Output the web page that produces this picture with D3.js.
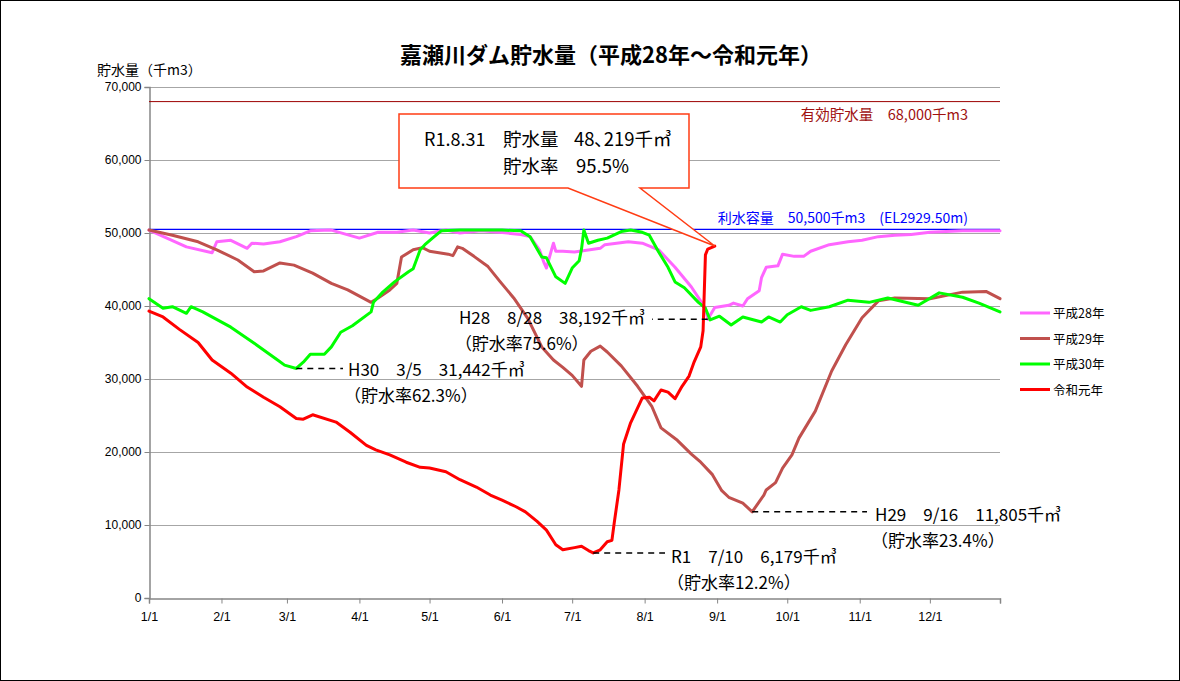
<!DOCTYPE html>
<html>
<head>
<meta charset="utf-8">
<script src="https://cdn.jsdelivr.net/npm/d3@7"></script>
<style>
body { margin: 0; background: #fff; }
text { font-family: "Noto Sans CJK JP", "Noto Sans", sans-serif; }
</style>
</head>
<body>
<div id="chart"></div>
<script>
// 平成28年
var h28Dates = ["1/1","1/17","1/28","1/30","2/5","2/12","2/14","2/19","2/26","3/5","3/11","3/20","4/1","4/9","4/17","4/24","5/1","5/8","5/14","5/23","5/31","6/9","6/13","6/17","6/19","6/20","6/22","6/23","6/24","6/27","7/2","7/13","7/15","7/25","7/31","8/7","8/14","8/21","8/27","8/28","8/31","9/6","9/8","9/12","9/14","9/19","9/20","9/22","9/27","9/29","10/4","10/8","10/11","10/19","10/27","11/2","11/9","11/16","11/23","12/1","12/15","12/31"];
var h28Values = [50400,48100,47300,48800,49000,47900,48600,48500,48800,49500,50300,50400,49300,50100,50100,50400,50000,50400,50000,50300,50100,49800,49500,47700,45900,45200,47500,48600,47500,47500,47400,47900,48400,48800,48600,47700,45300,42600,39700,38192,39800,40100,40400,40000,41000,42100,43900,45300,45500,47100,46800,46800,47500,48400,48800,49000,49500,49700,49800,50100,50300,50300];

// 平成29年
var h29Dates = ["1/1","1/11","1/22","1/30","2/8","2/15","2/19","2/26","3/4","3/12","3/20","3/27","4/6","4/9","4/14","4/17","4/19","4/24","4/28","5/1","5/9","5/11","5/13","5/15","5/20","5/26","5/31","6/6","6/12","6/18","6/23","6/27","7/1","7/5","7/6","7/9","7/13","7/16","7/22","7/29","8/4","8/8","8/15","8/21","8/25","8/30","9/3","9/6","9/12","9/16","9/21","9/22","9/26","9/29","10/3","10/6","10/13","10/20","10/26","11/2","11/9","11/16","12/1","12/15","12/25","12/31"];
var h29Values = [50400,49700,48800,47700,46300,44700,44800,45900,45600,44500,43100,42200,40500,41100,42200,43100,46700,47700,48000,47500,47100,46900,48100,47900,46800,45400,43400,41100,38300,34400,32600,31600,30500,29000,32600,33800,34500,33700,31800,29000,26300,23300,21600,19700,18600,16900,14700,13800,13000,11805,14100,14800,15800,17800,19600,21900,25600,31100,34700,38400,40700,41100,41000,41900,42000,41000];

// 平成30年
var h30Dates = ["1/1","1/7","1/11","1/17","1/19","1/24","2/5","2/15","2/25","2/28","3/5","3/8","3/11","3/17","3/20","3/24","3/29","4/6","4/7","4/11","4/16","4/22","4/24","4/27","4/29","5/3","5/6","5/14","6/1","6/9","6/13","6/18","6/20","6/24","6/28","7/1","7/4","7/5","7/6","7/8","7/12","7/16","7/22","7/26","7/31","8/3","8/7","8/11","8/14","8/18","8/24","8/27","8/29","9/2","9/7","9/12","9/20","9/23","9/28","10/1","10/7","10/11","10/19","10/27","11/5","11/13","11/26","12/5","12/15","12/22","12/31"];
var h30Values = [41000,39700,39900,39000,39900,39200,37100,34900,32600,31900,31442,32300,33400,33400,34400,36400,37300,39200,40500,41900,43300,44700,45100,47700,48400,49500,50300,50400,50400,50300,49500,46700,46600,44000,43100,45200,46200,47800,50400,48600,49000,49300,50200,50400,50100,49700,47400,45300,43300,42500,40500,39700,38100,38600,37400,38500,37800,38500,37800,38800,39900,39400,39900,40800,40500,41100,40100,41800,41200,40400,39200];

// 令和元年
var r1Dates = ["1/1","1/7","1/14","1/22","1/28","2/5","2/12","2/19","2/26","3/5","3/8","3/12","3/22","3/28","4/4","4/8","4/14","4/21","4/27","5/1","5/8","5/14","5/21","5/27","6/1","6/7","6/11","6/16","6/20","6/24","6/27","7/2","7/5","7/8","7/10","7/13","7/16","7/18","7/19","7/21","7/23","7/26","7/31","8/3","8/5","8/8","8/11","8/14","8/17","8/20","8/22","8/25","8/26","8/27","8/28","8/31"];
var r1Values = [39300,38500,36800,35000,32600,30800,28900,27500,26200,24600,24500,25100,24100,22700,20900,20300,19600,18600,17900,17800,17300,16200,15200,14100,13400,12500,11800,10500,9300,7300,6600,6900,7100,6500,6179,6600,7700,7900,10300,14800,21100,24000,27400,27500,27000,28500,28200,27300,29000,30400,32200,34400,36600,47000,47800,48219];

var seriesNames = ["平成28年", "平成29年", "平成30年", "令和元年"];
var seriesColors = ["#ff66ff", "#c0504d", "#00ff00", "#ff0000"];

var monthTicks = ["1/1","2/1","3/1","4/1","5/1","6/1","7/1","8/1","9/1","10/1","11/1","12/1"];
var yTicks = [0, 10000, 20000, 30000, 40000, 50000, 60000, 70000];

var effectiveCapacity = 68000;   // 有効貯水量
var waterUseCapacity = 50500;    // 利水容量

// minimum points: series label, date, volume, rate
var noteLabels = ["H30", "H28", "H29", "R1"];
var noteDates = ["3/5", "8/28", "9/16", "7/10"];
var noteValues = [31442, 38192, 11805, 6179];
var noteRates = ["62.3", "75.6", "23.4", "12.2"];

// callout
var calloutLabel = "R1.8.31";
var calloutDate = "8/31";
var calloutValue = 48219;
var calloutRate = "95.5";

var W = 1180, H = 681;
var parse = d3.timeParse("%Y/%m/%d");
function dt(s) { return parse("2019/" + s); }

var svg = d3.select("#chart").append("svg").attr("width", W).attr("height", H);

svg.append("rect").attr("x", 0.5).attr("y", 0.5).attr("width", W - 1).attr("height", H - 1)
    .attr("fill", "#fff").attr("stroke", "#000").attr("stroke-width", 1);

var x = d3.scaleTime().domain([dt("1/1"), dt("12/31")]).range([149, 1000]);
var y = d3.scaleLinear().domain([0, 70000]).range([598, 87]);

// grid
svg.append("g").selectAll("line").data(yTicks.slice(1)).enter().append("line")
    .attr("x1", 149).attr("x2", 1000)
    .attr("y1", function (d) { return y(d) + 0.5; }).attr("y2", function (d) { return y(d) + 0.5; })
    .attr("stroke", "#a6a6a6").attr("stroke-width", 1);

// axes
var yAxis = svg.append("g").attr("transform", "translate(149.5,0)")
    .call(d3.axisLeft(y).tickValues(yTicks).tickFormat(d3.format(",")).tickSize(5).tickPadding(3));
var xAxis = svg.append("g").attr("transform", "translate(0,598.5)")
    .call(d3.axisBottom(x).tickValues(monthTicks.map(dt).concat([dt("12/31")]))
        .tickFormat(function (d) { return +d === +dt("12/31") ? "" : d3.timeFormat("%-m/%-d")(d); })
        .tickSize(5).tickPadding(9));
[yAxis, xAxis].forEach(function (g) {
    g.selectAll("path, line").attr("stroke", "#868686");
    g.select(".domain").attr("stroke-width", 1.5);
    g.selectAll("text").attr("fill", "#000").style("font-family", "'Liberation Sans', sans-serif").style("font-size", "12px");
});
xAxis.selectAll("text").style("font-family", "'Liberation Sans Narrow', 'Liberation Sans', sans-serif").style("font-size", "12.5px");

// capacity lines
svg.append("line").attr("x1", 149).attr("x2", 1000)
    .attr("y1", y(effectiveCapacity)).attr("y2", y(effectiveCapacity))
    .attr("stroke", "#9c0000").attr("stroke-width", 1);
svg.append("text").attr("x", 968).attr("y", y(effectiveCapacity) + 18).attr("text-anchor", "end")
    .attr("fill", "#a01010").style("font-size", "14.5px")
    .text("有効貯水量　" + d3.format(",")(effectiveCapacity) + "千m3");
svg.append("line").attr("x1", 149).attr("x2", 1000)
    .attr("y1", y(waterUseCapacity)).attr("y2", y(waterUseCapacity))
    .attr("stroke", "#0000ff").attr("stroke-width", 1.2);
svg.append("text").attr("x", 968).attr("y", y(waterUseCapacity) - 6).attr("text-anchor", "end")
    .attr("fill", "#0000ff").style("font-size", "14px")
    .text("利水容量　" + d3.format(",")(waterUseCapacity) + "千m3　(EL2929.50m)");

// series
var seriesDates = [h28Dates, h29Dates, h30Dates, r1Dates];
var seriesValues = [h28Values, h29Values, h30Values, r1Values];
var line = d3.line().x(function (d) { return x(d[0]); }).y(function (d) { return y(d[1]); });
seriesDates.forEach(function (dates, i) {
    var pts = dates.map(function (s, j) { return [dt(s), seriesValues[i][j]]; });
    svg.append("path").datum(pts).attr("d", line)
        .attr("fill", "none").attr("stroke", seriesColors[i]).attr("stroke-width", 3)
        .attr("stroke-linejoin", "round").attr("stroke-linecap", "round");
});

// minimum notes
var noteLayout = [
    { dashTo: 343, tx: 348, dy: 8, left: false },
    { dashTo: 652, tx: 645, dy: 5, left: true },
    { dashTo: 867, tx: 875, dy: 9, left: false },
    { dashTo: 665, tx: 671, dy: 10, left: false }
];
noteLabels.forEach(function (lab, i) {
    var px = x(dt(noteDates[i])), py = y(noteValues[i]), L = noteLayout[i];
    svg.append("line").attr("x1", px).attr("x2", L.dashTo).attr("y1", py).attr("y2", py)
        .attr("stroke", "#000").attr("stroke-width", 1.5).attr("stroke-dasharray", "6,5");
    var t1 = svg.append("text").attr("x", L.tx).attr("y", py + L.dy)
        .attr("text-anchor", L.left ? "end" : "start").style("font-size", "17px")
        .text(lab + "　" + noteDates[i] + "　" + d3.format(",")(noteValues[i]) + "千㎥");
    var startX = L.tx;
    if (L.left) startX = L.tx - t1.node().getComputedTextLength();
    svg.append("text").attr("x", startX - 4).attr("y", py + L.dy + 26).style("font-size", "17px")
        .text("（貯水率" + noteRates[i] + "%）");
});

// callout box
var tipX = x(dt(calloutDate)), tipY = y(calloutValue);
var bx0 = 399, bx1 = 689, by0 = 114, by1 = 188;
svg.append("path")
    .attr("d", "M" + bx0 + "," + by0 + "H" + bx1 + "V" + by1 + "H640L" + tipX + "," + tipY + "L568," + by1 + "H" + bx0 + "Z")
    .attr("fill", "#fff").attr("stroke", "#ff3c14").attr("stroke-width", 1.5);
svg.append("text").attr("x", 424).attr("y", 146).style("font-size", "18px").text(calloutLabel);
svg.append("text").attr("x", 503).attr("y", 146).style("font-size", "18.5px").text("貯水量");
svg.append("text").attr("x", 574).attr("y", 146).style("font-size", "18.5px")
    .text(d3.format(",")(calloutValue).replace(",", "､") + "千㎥");
svg.append("text").attr("x", 503).attr("y", 173).style("font-size", "18.5px").text("貯水率");
svg.append("text").attr("x", 576).attr("y", 173).style("font-size", "18.5px").text(calloutRate + "%");

// title
svg.append("text").attr("x", 611).attr("y", 63).attr("text-anchor", "middle")
    .style("font-size", "22px").style("font-weight", "bold")
    .text("嘉瀬川ダム貯水量（平成28年～令和元年）");
svg.append("text").attr("x", 97).attr("y", 75).style("font-size", "14px").text("貯水量（千m3）");

// legend
var leg = svg.append("g");
seriesNames.forEach(function (n, i) {
    var ly = 313 + i * 25.5;
    leg.append("line").attr("x1", 1020).attr("x2", 1050).attr("y1", ly).attr("y2", ly)
        .attr("stroke", seriesColors[i]).attr("stroke-width", 3);
    leg.append("text").attr("x", 1053).attr("y", ly + 5).style("font-size", "12.5px").text(n);
});
</script>
</body>
</html>
